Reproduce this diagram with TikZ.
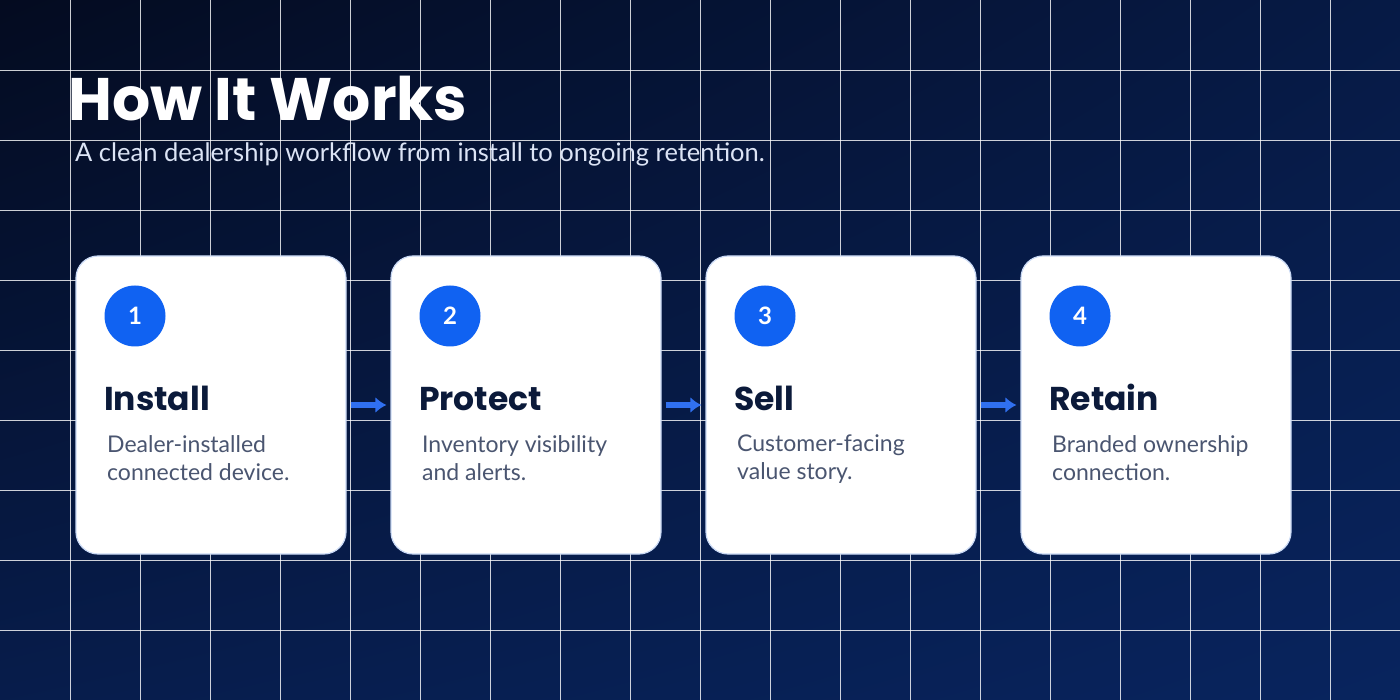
\documentclass[tikz,border=0pt]{standalone}
\usepackage{fontspec}
\setmainfont{Lato}
\newfontfamily\headfont{Poppins}
\usetikzlibrary{positioning,arrows.meta,shadings}
\definecolor{navyA}{HTML}{040B20}
\definecolor{navyB}{HTML}{08245E}
\definecolor{stepblue}{HTML}{1062F2}
\definecolor{arrowblue}{HTML}{3070F0}
\definecolor{cardedge}{HTML}{C8D8F4}
\definecolor{bodygray}{HTML}{4A5570}
\definecolor{inkdark}{HTML}{0B1A3A}
\definecolor{subtext}{HTML}{DCE4F5}
\tikzset{
  card/.style={draw=cardedge, line width=1.2pt, fill=white, rounded corners=22pt,
    minimum width=270pt, minimum height=298pt, inner sep=0pt},
  badge/.style={circle, fill=stepblue, minimum size=61pt, inner sep=0pt,
    text=white, font=\fontsize{24}{24}\selectfont\bfseries},
  steptitle/.style={anchor=base west, text=inkdark, font=\headfont\fontsize{33}{33}\selectfont\bfseries},
  stepbody/.style={anchor=north west, text=bodygray, align=left,
    font=\fontsize{23}{28}\selectfont},
  flow/.style={draw=arrowblue, line width=6pt, -{Latex[length=11pt,width=16pt]}}
}
\begin{document}
\begin{tikzpicture}[x=1pt,y=-1pt]
  % background and grid
  \shade[lower left=navyB!70!navyA, upper left=navyA,
    lower right=navyB, upper right=navyB!60!navyA] (0,0) rectangle (1400,700);
  \useasboundingbox (0,0) rectangle (1400,700);
  \foreach \gx in {70,140,...,1330} \draw[white, line width=0.8pt, opacity=0.8] (\gx,0) -- (\gx,700);
  \foreach \gy in {70,140,...,630} \draw[white, line width=0.8pt, opacity=0.8] (0,\gy) -- (1400,\gy);
  % heading
  \node[anchor=base west, inner sep=0pt, text=white,
    font=\headfont\fontsize{60}{60}\selectfont\bfseries] (title) at (68,121) {How It Works};
  \node[anchor=base west, inner sep=0pt, text=subtext,
    font=\fontsize{25.5}{25.5}\selectfont] (subtitle) at (75,162)
    {A clean dealership workflow from install to ongoing retention.};
  % cards
  \foreach \i/\name/\lineA/\lineB [count=\k from 0] in
     {1/Install/Dealer-installed/connected device.,
      2/Protect/Inventory visibility/and alerts.,
      3/Sell/Customer-facing/value story.,
      4/Retain/Branded ownership/connection.}{
    \node[card] (card\i) at (211+315*\k,405) {};
    \node[badge] (badge\i) at (135+315*\k,316) {\i};
    \node[steptitle, inner sep=0pt] (head\i) at (104+315*\k,410) {\name};
    \node[stepbody, inner sep=0pt] (text\i) at (107+315*\k,435) {\lineA\\\lineB};
  }
  % connectors
  \foreach \a/\b in {1/2,2/3,3/4}
    \draw[flow] ([xshift=4pt]card\a.east) -- ([xshift=-4pt]card\b.west);
\end{tikzpicture}
\end{document}
